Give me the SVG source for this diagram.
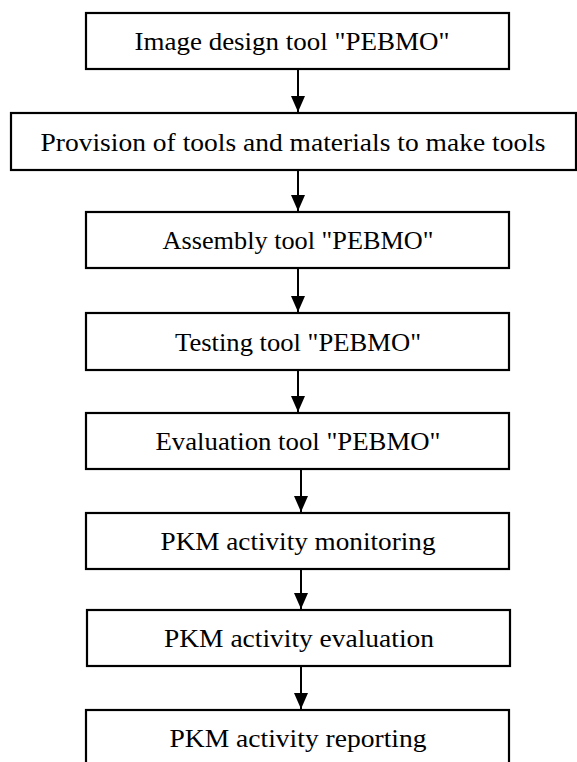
<svg xmlns="http://www.w3.org/2000/svg" width="577" height="762" viewBox="0 0 577 762">
<style>
.box{fill:#fff;stroke:#000;stroke-width:2.2}
.lbl{font-family:"Liberation Serif","Times New Roman",serif;font-size:26px;fill:#000;text-anchor:middle}
.conn{stroke:#000;stroke-width:2;fill:none}
</style>
<defs>
<marker id="ah" viewBox="0 0 16 14" refX="16" refY="7" markerWidth="16" markerHeight="14" markerUnits="userSpaceOnUse" orient="auto">
<path d="M0,0 L16,7 L0,14 Z" fill="#000"/>
</marker>
</defs>
<rect width="577" height="762" fill="#fff"/>
<g id="n1"><rect class="box" x="86" y="13" width="423" height="56"/><text class="lbl" x="292" y="50" textLength="315" lengthAdjust="spacingAndGlyphs">Image design tool "PEBMO"</text></g>
<g id="n2"><rect class="box" x="11" y="113" width="565" height="57"/><text class="lbl" x="293" y="151" textLength="505" lengthAdjust="spacingAndGlyphs">Provision of tools and materials to make tools</text></g>
<g id="n3"><rect class="box" x="86" y="212" width="423" height="56"/><text class="lbl" x="298" y="249" textLength="271" lengthAdjust="spacingAndGlyphs">Assembly tool "PEBMO"</text></g>
<g id="n4"><rect class="box" x="86" y="313" width="423" height="57"/><text class="lbl" x="298" y="351" textLength="246" lengthAdjust="spacingAndGlyphs">Testing tool "PEBMO"</text></g>
<g id="n5"><rect class="box" x="86" y="413" width="423" height="56"/><text class="lbl" x="298" y="450" textLength="285" lengthAdjust="spacingAndGlyphs">Evaluation tool "PEBMO"</text></g>
<g id="n6"><rect class="box" x="86" y="513" width="423" height="56"/><text class="lbl" x="298" y="550" textLength="275" lengthAdjust="spacingAndGlyphs">PKM activity monitoring</text></g>
<g id="n7"><rect class="box" x="87" y="610" width="423" height="56"/><text class="lbl" x="299" y="647" textLength="270" lengthAdjust="spacingAndGlyphs">PKM activity evaluation</text></g>
<g id="n8"><rect class="box" x="86" y="710" width="423" height="60"/><text class="lbl" x="298" y="747" textLength="257" lengthAdjust="spacingAndGlyphs">PKM activity reporting</text></g>
<g id="connectors">
<line class="conn" x1="298" y1="70" x2="298" y2="112" marker-end="url(#ah)"/>
<line class="conn" x1="298" y1="171" x2="298" y2="211" marker-end="url(#ah)"/>
<line class="conn" x1="298" y1="269" x2="298" y2="312" marker-end="url(#ah)"/>
<line class="conn" x1="298" y1="371" x2="298" y2="412" marker-end="url(#ah)"/>
<line class="conn" x1="301" y1="470" x2="301" y2="512" marker-end="url(#ah)"/>
<line class="conn" x1="301" y1="570" x2="301" y2="609" marker-end="url(#ah)"/>
<line class="conn" x1="301" y1="667" x2="301" y2="709" marker-end="url(#ah)"/>
</g>
</svg>
